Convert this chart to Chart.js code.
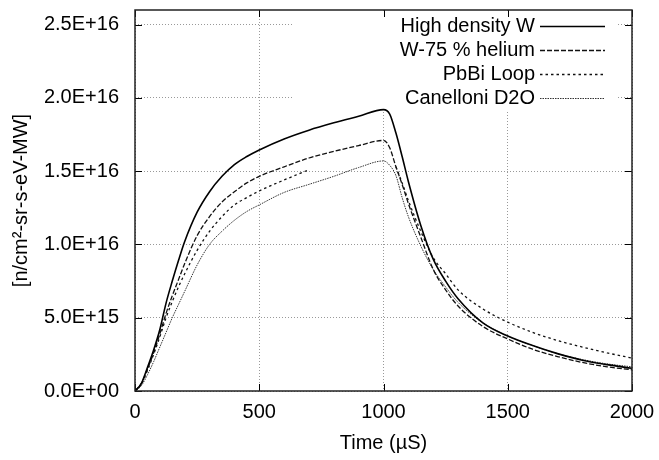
<!DOCTYPE html>
<html>
<head>
<meta charset="UTF-8">
<title>Flux vs time</title>
<script src="https://cdn.jsdelivr.net/npm/chart.js"></script>
<style>
  html, body { margin: 0; padding: 0; background: #fff; }
</style>
</head>
<body>
<canvas id="fluxChart" width="659" height="460"></canvas>
<script>
// time in microseconds
const times = [0, 25, 50, 75, 100, 125, 150, 175, 200, 250, 300, 350, 400, 450, 500, 600, 700, 800, 900, 1000,
               1025, 1050, 1075, 1100, 1150, 1200, 1250, 1300, 1400, 1500, 1600, 1700, 1800, 1900, 2000];

// n/cm2-sr-s-eV-MW
const highDensityW = [0, 0.05e16, 0.16e16, 0.28e16, 0.42e16, 0.60e16, 0.75e16, 0.89e16, 1.02e16, 1.22e16, 1.36e16,
                      1.465e16, 1.545e16, 1.60e16, 1.645e16, 1.72e16, 1.78e16, 1.83e16, 1.875e16, 1.92e16,
                      1.89e16, 1.76e16, 1.60e16, 1.43e16, 1.13e16, 0.90e16, 0.75e16, 0.63e16, 0.465e16, 0.375e16,
                      0.31e16, 0.255e16, 0.21e16, 0.18e16, 0.155e16];
const w75Helium = [0, 0.05e16, 0.15e16, 0.26e16, 0.39e16, 0.53e16, 0.65e16, 0.76e16, 0.87e16, 1.06e16, 1.19e16,
                   1.29e16, 1.36e16, 1.42e16, 1.465e16, 1.53e16, 1.59e16, 1.635e16, 1.675e16, 1.71e16,
                   1.66e16, 1.53e16, 1.41e16, 1.28e16, 1.05e16, 0.83e16, 0.69e16, 0.58e16, 0.44e16, 0.355e16,
                   0.285e16, 0.235e16, 0.195e16, 0.165e16, 0.145e16];
const pbbiLoop = [0, 0.045e16, 0.14e16, 0.25e16, 0.37e16, 0.50e16, 0.61e16, 0.71e16, 0.80e16, 0.96e16, 1.09e16,
                  1.19e16, 1.27e16, 1.32e16, 1.365e16, 1.44e16, 1.51e16, null, null, null,
                  null, 1.53e16, 1.42e16, 1.30e16, 1.09e16, 0.91e16, 0.80e16, 0.69e16, 0.56e16, 0.47e16,
                  0.40e16, 0.345e16, 0.30e16, 0.26e16, 0.225e16];
const canelloniD2O = [0, 0.035e16, 0.11e16, 0.20e16, 0.30e16, 0.40e16, 0.50e16, 0.59e16, 0.68e16, 0.86e16, 1.00e16,
                      1.09e16, 1.165e16, 1.225e16, 1.27e16, 1.355e16, 1.41e16, 1.465e16, 1.525e16, 1.57e16,
                      1.54e16, 1.47e16, 1.32e16, 1.19e16, 0.99e16, 0.83e16, 0.71e16, 0.605e16, 0.465e16, 0.375e16,
                      0.31e16, 0.255e16, 0.215e16, 0.185e16, 0.165e16];

const seriesNames = ['High density W', 'W-75 % helium', 'PbBi Loop', 'Canelloni D2O'];
const xTicks = [0, 500, 1000, 1500, 2000];
const yTicks = [0, 5e15, 1e16, 1.5e16, 2e16, 2.5e16];

Chart.defaults.font.family = "'Liberation Sans', Arial, sans-serif";
Chart.defaults.font.size = 20;
Chart.defaults.color = '#000';

function toPoints(values) {
    return times.map((t, i) => ({ x: t, y: values[i] }));
}

function sciLabel(v) {
    if (v === 0) return '0.0E+00';
    const parts = v.toExponential(1).toUpperCase().split('E');
    let exp = parts[1];
    const sign = exp[0];
    exp = exp.slice(1).padStart(2, '0');
    return parts[0] + 'E' + sign + exp;
}

// gnuplot style frame, inward ticks and legend
const gnuplotLook = {
    id: 'gnuplotLook',
    beforeDatasetsDraw(chart) {
        const ctx = chart.ctx;
        const area = chart.chartArea;
        ctx.save();
        ctx.fillStyle = '#fff';
        ctx.fillRect(292, area.top + 1, 617 - 292, 110 - area.top);
        ctx.restore();
    },
    afterDatasetsDraw(chart) {
        const ctx = chart.ctx;
        const a = chart.chartArea;
        const xs = chart.scales.x;
        const ys = chart.scales.y;
        ctx.save();

        // ticks
        ctx.strokeStyle = '#000';
        ctx.lineWidth = 1;
        ctx.setLineDash([]);
        ctx.beginPath();
        yTicks.forEach(v => {
            const y = Math.round(ys.getPixelForValue(v)) + 0.5;
            ctx.moveTo(a.left, y); ctx.lineTo(a.left + 7, y);
            ctx.moveTo(a.right, y); ctx.lineTo(a.right - 7, y);
        });
        xTicks.forEach(v => {
            const x = Math.round(xs.getPixelForValue(v)) + 0.5;
            ctx.moveTo(x, a.bottom); ctx.lineTo(x, a.bottom - 7);
            ctx.moveTo(x, a.top); ctx.lineTo(x, a.top + 7);
        });
        ctx.stroke();

        // frame
        ctx.lineWidth = 1.5;
        ctx.strokeStyle = '#222';
        ctx.strokeRect(a.left, a.top, a.right - a.left, a.bottom - a.top);

        // legend
        ctx.font = "20px 'Liberation Sans', Arial, sans-serif";
        ctx.textAlign = 'right';
        ctx.textBaseline = 'middle';
        ctx.fillStyle = '#000';
        chart.data.datasets.forEach((ds, i) => {
            const y = 26 + i * 24;
            ctx.fillText(ds.label, 535, y);
            ctx.beginPath();
            ctx.strokeStyle = ds.borderColor;
            ctx.lineWidth = ds.borderWidth;
            ctx.setLineDash(ds.borderDash || []);
            ctx.moveTo(540, y + 0.5);
            ctx.lineTo(605, y + 0.5);
            ctx.stroke();
        });
        ctx.restore();
    }
};

const ctx = document.getElementById('fluxChart').getContext('2d');
new Chart(ctx, {
    type: 'line',
    data: {
        datasets: [
            { label: seriesNames[0], data: toPoints(highDensityW), borderColor: '#000', borderWidth: 1.6, borderDash: [] },
            { label: seriesNames[1], data: toPoints(w75Helium), borderColor: '#111', borderWidth: 1.3, borderDash: [5, 2] },
            { label: seriesNames[2], data: toPoints(pbbiLoop), borderColor: '#111', borderWidth: 1.3, borderDash: [2.5, 3] },
            { label: seriesNames[3], data: toPoints(canelloniD2O), borderColor: '#333', borderWidth: 1, borderDash: [1.5, 1] }
        ]
    },
    options: {
        responsive: false,
        animation: false,
        spanGaps: false,
        layout: { padding: { left: 0, right: 27, top: 10, bottom: 0 } },
        elements: {
            point: { radius: 0 },
            line: { cubicInterpolationMode: 'monotone', fill: false }
        },
        plugins: {
            legend: { display: false },
            tooltip: { enabled: false }
        },
        scales: {
            x: {
                type: 'linear',
                min: 0,
                max: 2000,
                afterBuildTicks: s => { s.ticks = xTicks.map(v => ({ value: v })); },
                ticks: { padding: 9, maxRotation: 0, autoSkip: false, callback: v => String(v) },
                grid: { color: '#999', drawTicks: false },
                border: { display: false, dash: [1, 2] },
                title: { display: true, text: 'Time (\u00b5S)', padding: { top: 0, bottom: 5 } },
                afterFit: s => { s.height = 69; s.paddingLeft = 0; s.paddingRight = 0; }
            },
            y: {
                type: 'linear',
                min: 0,
                max: 2.6e16,
                afterBuildTicks: s => { s.ticks = yTicks.map(v => ({ value: v })); },
                ticks: { padding: 16, autoSkip: false, callback: v => sciLabel(v) },
                grid: { color: '#999', drawTicks: false },
                border: { display: false, dash: [1, 2] },
                title: { display: true, text: '[n/cm\u00b2-sr-s-eV-MW]', padding: { top: 9, bottom: 0 } },
                afterFit: s => { s.width = 135; s.paddingTop = 0; s.paddingBottom = 0; }
            }
        }
    },
    plugins: [gnuplotLook]
});
</script>
</body>
</html>
